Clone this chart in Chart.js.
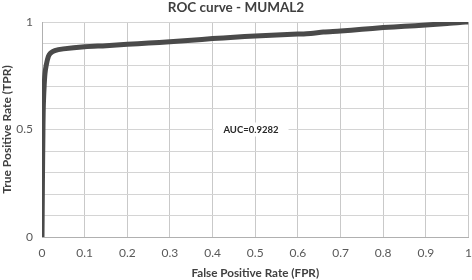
<!DOCTYPE html>
<html>
<head>
<meta charset="utf-8">
<script src="https://cdn.jsdelivr.net/npm/chart.js@4.4.1/dist/chart.umd.min.js"></script>
<style>
  html, body { margin: 0; padding: 0; background: #fff; }
  #wrap { width: 472px; height: 280px; position: relative; }
</style>
</head>
<body>
<div id="wrap"><canvas id="roc"></canvas></div>
<script>
// ROC points
const fpr = [0, 0.001, 0.002, 0.003, 0.005, 0.007, 0.01, 0.015, 0.02, 0.03, 0.05, 0.1, 0.15, 0.2, 0.25, 0.3, 0.35, 0.4, 0.45, 0.5, 0.55, 0.6, 0.63, 0.66, 0.7, 0.75, 0.8, 0.85, 0.9, 0.95, 0.98, 1];
const tpr = [0, 0.25, 0.45, 0.6, 0.7, 0.76, 0.8, 0.84, 0.855, 0.867, 0.875, 0.885, 0.89, 0.896, 0.902, 0.908, 0.915, 0.923, 0.929, 0.935, 0.94, 0.944, 0.947, 0.953, 0.958, 0.966, 0.974, 0.98, 0.986, 0.993, 0.998, 1];
const yLabels = [0, 0.5, 1];
const aucText = "AUC=0.9282";
const aucPos = [0.49, 0.5];

const FONT = "Lato, 'Open Sans', sans-serif";

const aucLabel = {
  id: "aucLabel",
  afterDatasetsDraw(chart) {
    const { ctx, scales } = chart;
    const px = scales.x.getPixelForValue(aucPos[0]);
    const py = scales.y.getPixelForValue(aucPos[1]);
    ctx.save();
    ctx.font = "bold 9.5px " + FONT;
    const w = ctx.measureText(aucText).width;
    ctx.fillStyle = "#fff";
    ctx.fillRect(px - w / 2 - 10, py - 7, w + 20, 14);
    ctx.fillStyle = "#262626";
    ctx.textAlign = "center";
    ctx.textBaseline = "middle";
    ctx.fillText(aucText, px, py);
    ctx.restore();
  }
};

new Chart(document.getElementById("roc"), {
  type: "line",
  data: {
    datasets: [{
      data: fpr.map((v, i) => ({ x: v, y: tpr[i] })),
      borderColor: "#4a4a4a",
      borderWidth: 5,
      pointRadius: 0,
      tension: 0.3,
      fill: false
    }]
  },
  options: {
    responsive: true,
    maintainAspectRatio: false,
    animation: false,
    layout: { padding: { left: 0, right: 0, top: 0, bottom: 0 } },
    plugins: {
      legend: { display: false },
      tooltip: { enabled: false },
      title: {
        display: true,
        text: "ROC curve - MUMAL2",
        color: "#404040",
        font: { family: FONT, size: 13.5, weight: "bold" },
        padding: { top: 0, bottom: 5.8 }
      }
    },
    scales: {
      x: {
        type: "linear",
        min: 0, max: 1,
        ticks: {
          stepSize: 0.1,
          color: "#595959",
          font: { family: FONT, size: 12 },
          padding: 9,
          maxRotation: 0,
          callback: v => String(Math.round(v * 10) / 10)
        },
        grid: { color: "#c9c9c9", lineWidth: 1, drawTicks: false },
        border: { color: "#b0b0b0" },
        title: {
          display: true,
          text: "False Positive Rate (FPR)",
          color: "#404040",
          font: { family: FONT, size: 11.7, weight: "bold" },
          padding: { top: 4, bottom: 0 }
        },
        afterFit: s => { s.height = 43; s.paddingRight = 3.5; s.paddingLeft = 0; }
      },
      y: {
        type: "linear",
        min: 0, max: 1,
        ticks: {
          stepSize: 0.1,
          color: "#595959",
          font: { family: FONT, size: 12 },
          padding: 9,
          callback: v => {
            const r = Math.round(v * 10) / 10;
            return yLabels.includes(r) ? String(r) : "";
          }
        },
        grid: { color: "#d4d4d4", lineWidth: 1, drawTicks: false },
        border: { color: "#b0b0b0" },
        title: {
          display: true,
          text: "True Positive Rate (TPR)",
          color: "#404040",
          font: { family: FONT, size: 12, weight: "bold" },
          padding: { top: 0, bottom: 4 }
        },
        afterFit: s => { s.width = 42; }
      }
    }
  },
  plugins: [aucLabel]
});
</script>
</body>
</html>
